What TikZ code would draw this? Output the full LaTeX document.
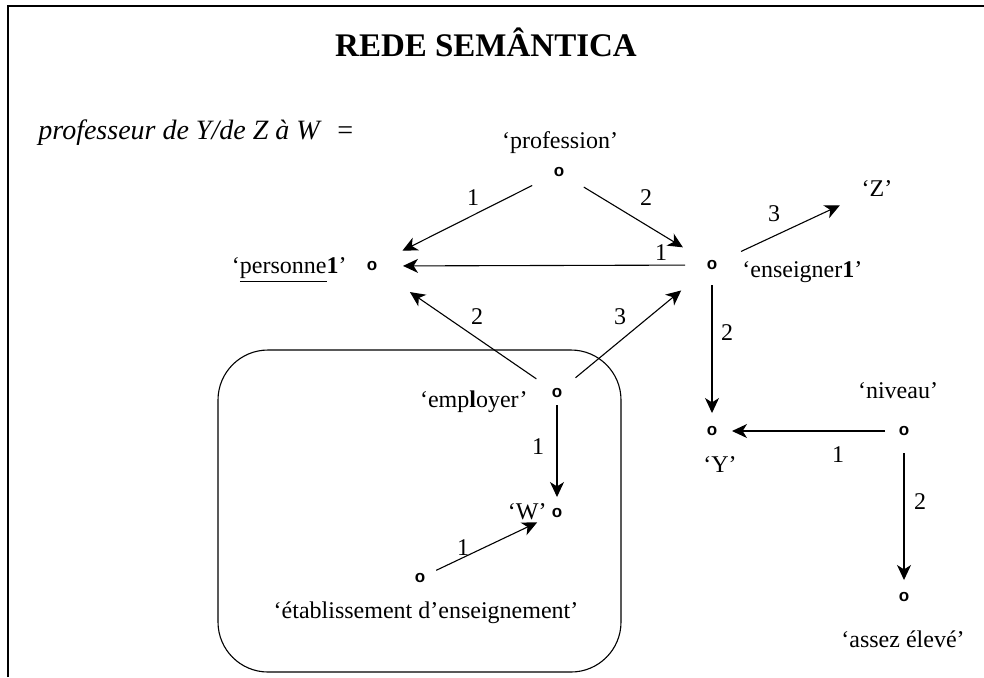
\documentclass[tikz,border=0pt]{standalone}
\usepackage{fontspec}
\setmainfont{Liberation Serif}
\newfontfamily\dotfont{Liberation Sans}
\usetikzlibrary{arrows.meta}

\begin{document}
\begin{tikzpicture}[x=0.5pt, y=-0.5pt,
    wpoint/.style={font=\dotfont\bfseries\fontsize{8.5}{9}\selectfont, inner sep=0pt},
    lab/.style={font=\fontsize{12}{14}\selectfont, inner sep=0pt},
    rel/.style={-{Stealth[length=7.5pt,width=7pt,inset=2.2pt]}, line width=0.55pt}]

    % Page
    \useasboundingbox (0,0) rectangle (984,677);
    \draw [line width=1pt] (8,677) -- (8,6) -- (984,6);

    % Heading
    \node [font=\bfseries\fontsize{16.5}{18}\selectfont, inner sep=0pt, anchor=base] (title) at (486,56) {REDE SEMÂNTICA};
    \node [font=\itshape\fontsize{14}{16}\selectfont, inner sep=0pt, anchor=base west] (defn) at (38,139) {professeur de Y/de Z à W\hspace{8pt}=};

    % Frame round 'employer'
    \draw [line width=0.55pt, rounded corners=25pt] (218,350) rectangle (621,672);

    % Points
    \node [wpoint] (prof) at (559,172) {o};
    \node [wpoint] (pers) at (372,266) {o};
    \node [wpoint] (ens)  at (712,265) {o};
    \node [wpoint] (emp)  at (557,393) {o};
    \node [wpoint] (w)    at (557,513) {o};
    \node [wpoint] (eta)  at (420,578) {o};
    \node [wpoint] (y)    at (712,431) {o};
    \node [wpoint] (niv)  at (904,431) {o};
    \node [wpoint] (ass)  at (904,597) {o};

    % Names
    \node [lab, anchor=base] (profL) at (560,148) {‘profession’};
    \node [lab, anchor=base east] (persL) at (347,273) {‘\underline{personne}\textbf{1}’};
    \node [lab, anchor=base west] (ensL) at (742,277) {‘enseigner\textbf{1}’};
    \node [lab, anchor=base] (zL) at (877,196) {‘Z’};
    \node [lab, anchor=base east] (empL) at (528,407) {‘emp\textbf{l}oyer’};
    \node [lab, anchor=base east] (wL) at (547,519) {‘W’};
    \node [lab, anchor=base] (etaL) at (426,618) {‘établissement d’enseignement’};
    \node [lab, anchor=base] (yL) at (720,472) {‘Y’};
    \node [lab, anchor=base] (nivL) at (898,398) {‘niveau’};
    \node [lab, anchor=base] (assL) at (903,647) {‘assez élevé’};

    % Relations
    \draw [rel, shorten <=15pt, shorten >=17pt] (prof.center) -- (pers.center);
    \draw [rel, shorten <=14.5pt, shorten >=17pt] (prof.center) -- (ens.center);
    \draw [rel, shorten <=13.5pt, shorten >=15.5pt] (ens.center) -- (pers.center);
    \draw [rel, shorten <=16pt, shorten >=20.5pt] (ens.center) -- (zL.center);
    \draw [rel, shorten <=12.5pt, shorten >=23pt] (emp.center) -- (pers.center);
    \draw [rel, shorten <=12pt, shorten >=20pt] (emp.center) -- (ens.center);
    \draw [rel, shorten <=6pt, shorten >=8pt] (emp.center) -- (w.center);
    \draw [rel, shorten <=9pt, shorten >=11pt] (eta.center) -- (w.center);
    \draw [rel, shorten <=10pt, shorten >=9pt] (ens.center) -- (y.center);
    \draw [rel, shorten <=9.5pt, shorten >=10pt] (niv.center) -- (y.center);
    \draw [rel, shorten <=11pt, shorten >=8.5pt] (niv.center) -- (ass.center);

    % Argument numbers
    \node [lab] (n1)  at (473,198) {1};
    \node [lab] (n2)  at (646,198) {2};
    \node [lab] (n3)  at (661,253) {1};
    \node [lab] (n4)  at (774,214) {3};
    \node [lab] (n5)  at (477,317) {2};
    \node [lab] (n6)  at (620,317) {3};
    \node [lab] (n7)  at (538,447) {1};
    \node [lab] (n8)  at (463,548) {1};
    \node [lab] (n9)  at (727,333) {2};
    \node [lab] (n10) at (838,455) {1};
    \node [lab] (n11) at (920,502) {2};

\end{tikzpicture}
\end{document}
